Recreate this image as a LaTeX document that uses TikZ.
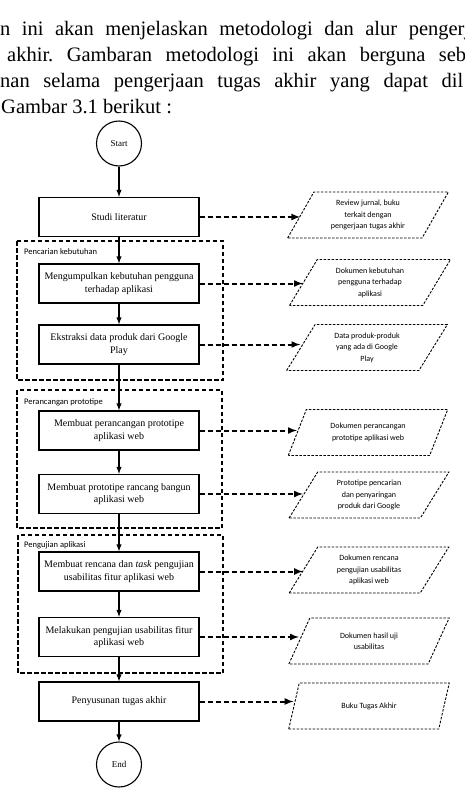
\documentclass[tikz,border=0pt]{standalone}
\usepackage{fontspec}
\setmainfont{Liberation Serif}
\newfontfamily\calibri{Carlito}
\usetikzlibrary{shapes.geometric}
\frenchspacing

\tikzset{
  proses/.style={draw, line width=1.3pt, minimum width=160pt, minimum height=39pt,
    align=center, inner sep=2pt, font=\fontsize{10}{12.5}\selectfont},
  dokumen/.style={draw, line width=0.9pt, dash pattern=on 2.5pt off 1.5pt,
    trapezium, trapezium left angle=59, trapezium right angle=121, trapezium stretches=true,
    minimum width=161pt, minimum height=46pt, align=center, inner sep=0pt,
    font=\calibri\fontsize{8}{11.5}\selectfont},
  terminal/.style={draw, circle, line width=1.1pt, minimum size=45pt, inner sep=0pt,
    font=\fontsize{9}{11}\selectfont},
  grup/.style={line width=1.2pt, dash pattern=on 4.5pt off 2.5pt},
  judulgrup/.style={anchor=west, inner sep=0pt, font=\calibri\fontsize{8.5}{10}\selectfont},
  panah/.style={line width=1.4pt, arrows={-latex}},
  hasil/.style={line width=2pt, dash pattern=on 5pt off 3pt, arrows={-latex}},
  paragraf/.style={anchor=base west, inner sep=0pt, font=\fontsize{20.5}{25}\selectfont},
}

\begin{document}
\begin{tikzpicture}[x=1pt, y=-1pt]
\useasboundingbox (0,0) rectangle (464,790);
\clip (0,0) rectangle (464,790);
% Teks
\node[paragraf] (baris1) at (0,35) {\makebox[470pt][s]{n ini akan menjelaskan metodologi dan alur pengerj}};
\node[paragraf] (baris2) at (7,61) {\makebox[459pt][s]{akhir. Gambaran metodologi ini akan berguna seb}};
\node[paragraf] (baris3) at (0,87) {\makebox[463pt][s]{nan selama pengerjaan tugas akhir yang dapat dil}};
\node[paragraf] (baris4) at (1,113) {Gambar 3.1 berikut :};

% Alur utama
\node[terminal] (start) at (119,143.5) {Start};
\node[proses] (studi) at (119,217) {Studi literatur};
\node[proses] (kumpul) at (119,283.5) {Mengumpulkan kebutuhan pengguna\\terhadap aplikasi};
\node[proses] (ekstrak) at (119,344.5) {Ekstraksi data produk dari Google\\Play};
\node[proses] (rancang) at (119,430.5) {Membuat perancangan prototipe\\aplikasi web};
\node[proses] (bangun) at (119,494) {Membuat prototipe rancang bangun\\aplikasi web};
\node[proses] (rencana) at (119,571.5) {Membuat rencana dan \textit{task} pengujian\\usabilitas fitur aplikasi web};
\node[proses] (uji) at (119,637) {Melakukan pengujian usabilitas fitur\\aplikasi web};
\node[proses] (susun) at (119,701.5) {Penyusunan tugas akhir};
\node[terminal] (end) at (119,764.5) {End};

% Kelompok
\draw[grup] (17,241) rectangle (223,380);
\node[judulgrup] (g1) at (24,252) {Pencarian kebutuhan};
\draw[grup] (17,390) rectangle (222,528);
\node[judulgrup] (g2) at (24,402) {Perancangan prototipe};
\draw[grup] (18,535) rectangle (223,673);
\node[judulgrup] (g3) at (24,545) {Pengujian aplikasi};

% Keluaran
\node[dokumen] (d1) at (368,215) {Review jurnal, buku\\terkait dengan\\pengerjaan tugas akhir};
\node[dokumen] (d2) at (370,282.5) {Dokumen kebutuhan\\pengguna terhadap\\aplikasi};
\node[dokumen] (d3) at (367,347.5) {Data produk-produk\\yang ada di Google\\Play};
\node[dokumen] (d4) at (368,432.5) {Dokumen perancangan\\prototipe aplikasi web};
\node[dokumen] (d5) at (369,495) {Prototipe pencarian\\dan penyaringan\\produk dari Google};
\node[dokumen] (d6) at (369,570) {Dokumen rencana\\pengujian usabilitas\\aplikasi web};
\node[dokumen] (d7) at (369,641) {Dokumen hasil uji\\usabilitas};
\node[dokumen] (d8) at (369,706) {Buku Tugas Akhir};

% Panah
\draw[panah] (start) -- (studi);
\draw[panah] (studi) -- (kumpul);
\draw[panah] (kumpul) -- (ekstrak);
\draw[panah] (ekstrak) -- (rancang);
\draw[panah] (rancang) -- (bangun);
\draw[panah] (bangun) -- (rencana);
\draw[panah] (rencana) -- (uji);
\draw[panah] (uji) -- (susun);
\draw[panah] (susun) -- (end);

\draw[hasil] (studi.east) -- (studi.east -| d1.west);
\draw[hasil] (kumpul.east) -- (kumpul.east -| d2.west);
\draw[hasil] (ekstrak.east) -- (ekstrak.east -| d3.west);
\draw[hasil] (rancang.east) -- (rancang.east -| d4.west);
\draw[hasil] (bangun.east) -- (bangun.east -| d5.west);
\draw[hasil] (rencana.east) -- (rencana.east -| d6.west);
\draw[hasil] (uji.east) -- (uji.east -| d7.west);
\draw[hasil] (susun.east) -- (susun.east -| d8.west);
\end{tikzpicture}
\end{document}
